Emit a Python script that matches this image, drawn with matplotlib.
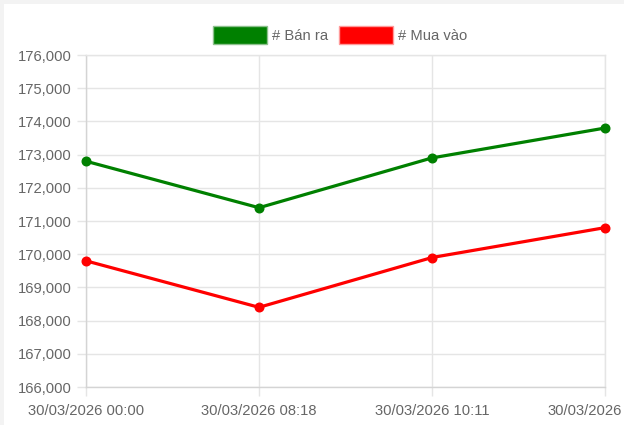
import matplotlib.pyplot as plt
from matplotlib.patches import Patch, Rectangle
from matplotlib.ticker import FuncFormatter
import matplotlib.transforms as mtransforms

plt.rcParams['font.family'] = ['Liberation Sans', 'DejaVu Sans']

# dữ liệu
labels = ['30/03/2026 00:00', '30/03/2026 08:18', '30/03/2026 10:11', '30/03/2026']
ban_ra = [172800, 171400, 172900, 173800]
mua_vao = [169800, 168400, 169900, 170800]

W, H = 624, 425
fig = plt.figure(figsize=(W / 100, H / 100), dpi=100, facecolor='#f3f3f3')
# nền trắng, viền xám nhạt phía trên và bên trái
fig.patches.append(Rectangle((4 / W, 0), 1, 1 - 4 / H, transform=fig.transFigure,
                             facecolor='white', edgecolor='none', zorder=-5))

ax = fig.add_axes([86 / W, (H - 387) / H, 519 / W, 332 / H])
ax.set_facecolor('white')

x = range(len(labels))
ax.plot(x, ban_ra, color='#008000', lw=2.3, marker='o', ms=6.2, clip_on=False, zorder=3)
ax.plot(x, mua_vao, color='#ff0000', lw=2.3, marker='o', ms=6.2, clip_on=False, zorder=3)

ax.set_xlim(0, len(labels) - 1)
ax.set_ylim(166000, 176000)
ax.set_yticks(range(166000, 176001, 1000))
ax.yaxis.set_major_formatter(FuncFormatter(lambda v, p: f'{int(v):,}'))
ax.set_xticks(list(x))
ax.set_xticklabels(labels)

ax.grid(True, color='#e5e5e5', lw=1)
ax.set_axisbelow(True)
for s in ['top', 'right']:
    ax.spines[s].set_color('#e5e5e5')
    ax.spines[s].set_linewidth(1)
for s in ['left', 'bottom']:
    ax.spines[s].set_color('#d4d4d4')
    ax.spines[s].set_linewidth(1)

ax.tick_params(axis='both', colors='#e5e5e5', labelcolor='#666666',
               labelsize=10.6, length=6.5, width=1, pad=3.6)
ax.tick_params(axis='x', pad=6)

# nhãn cuối bị cắt ở mép khung
last = ax.get_xticklabels()[-1]
last.set_horizontalalignment('left')
last.set_transform(last.get_transform() + mtransforms.ScaledTranslation(-58 / 100, 0, fig.dpi_scale_trans))

handles = [Patch(facecolor='#008000', edgecolor='#8cc08c', label='# Bán ra'),
           Patch(facecolor='#ff0000', edgecolor='#ff9a9a', label='# Mua vào')]
fig.legend(handles=handles, loc='center', bbox_to_anchor=(340 / W, 1 - 35 / H), ncol=2,
           frameon=False, fontsize=10.6, labelcolor='#666666',
           handlelength=3.7, handleheight=1.4, handletextpad=0.35, columnspacing=0.7)

fig.savefig('out.png', dpi=100, facecolor=fig.get_facecolor())
